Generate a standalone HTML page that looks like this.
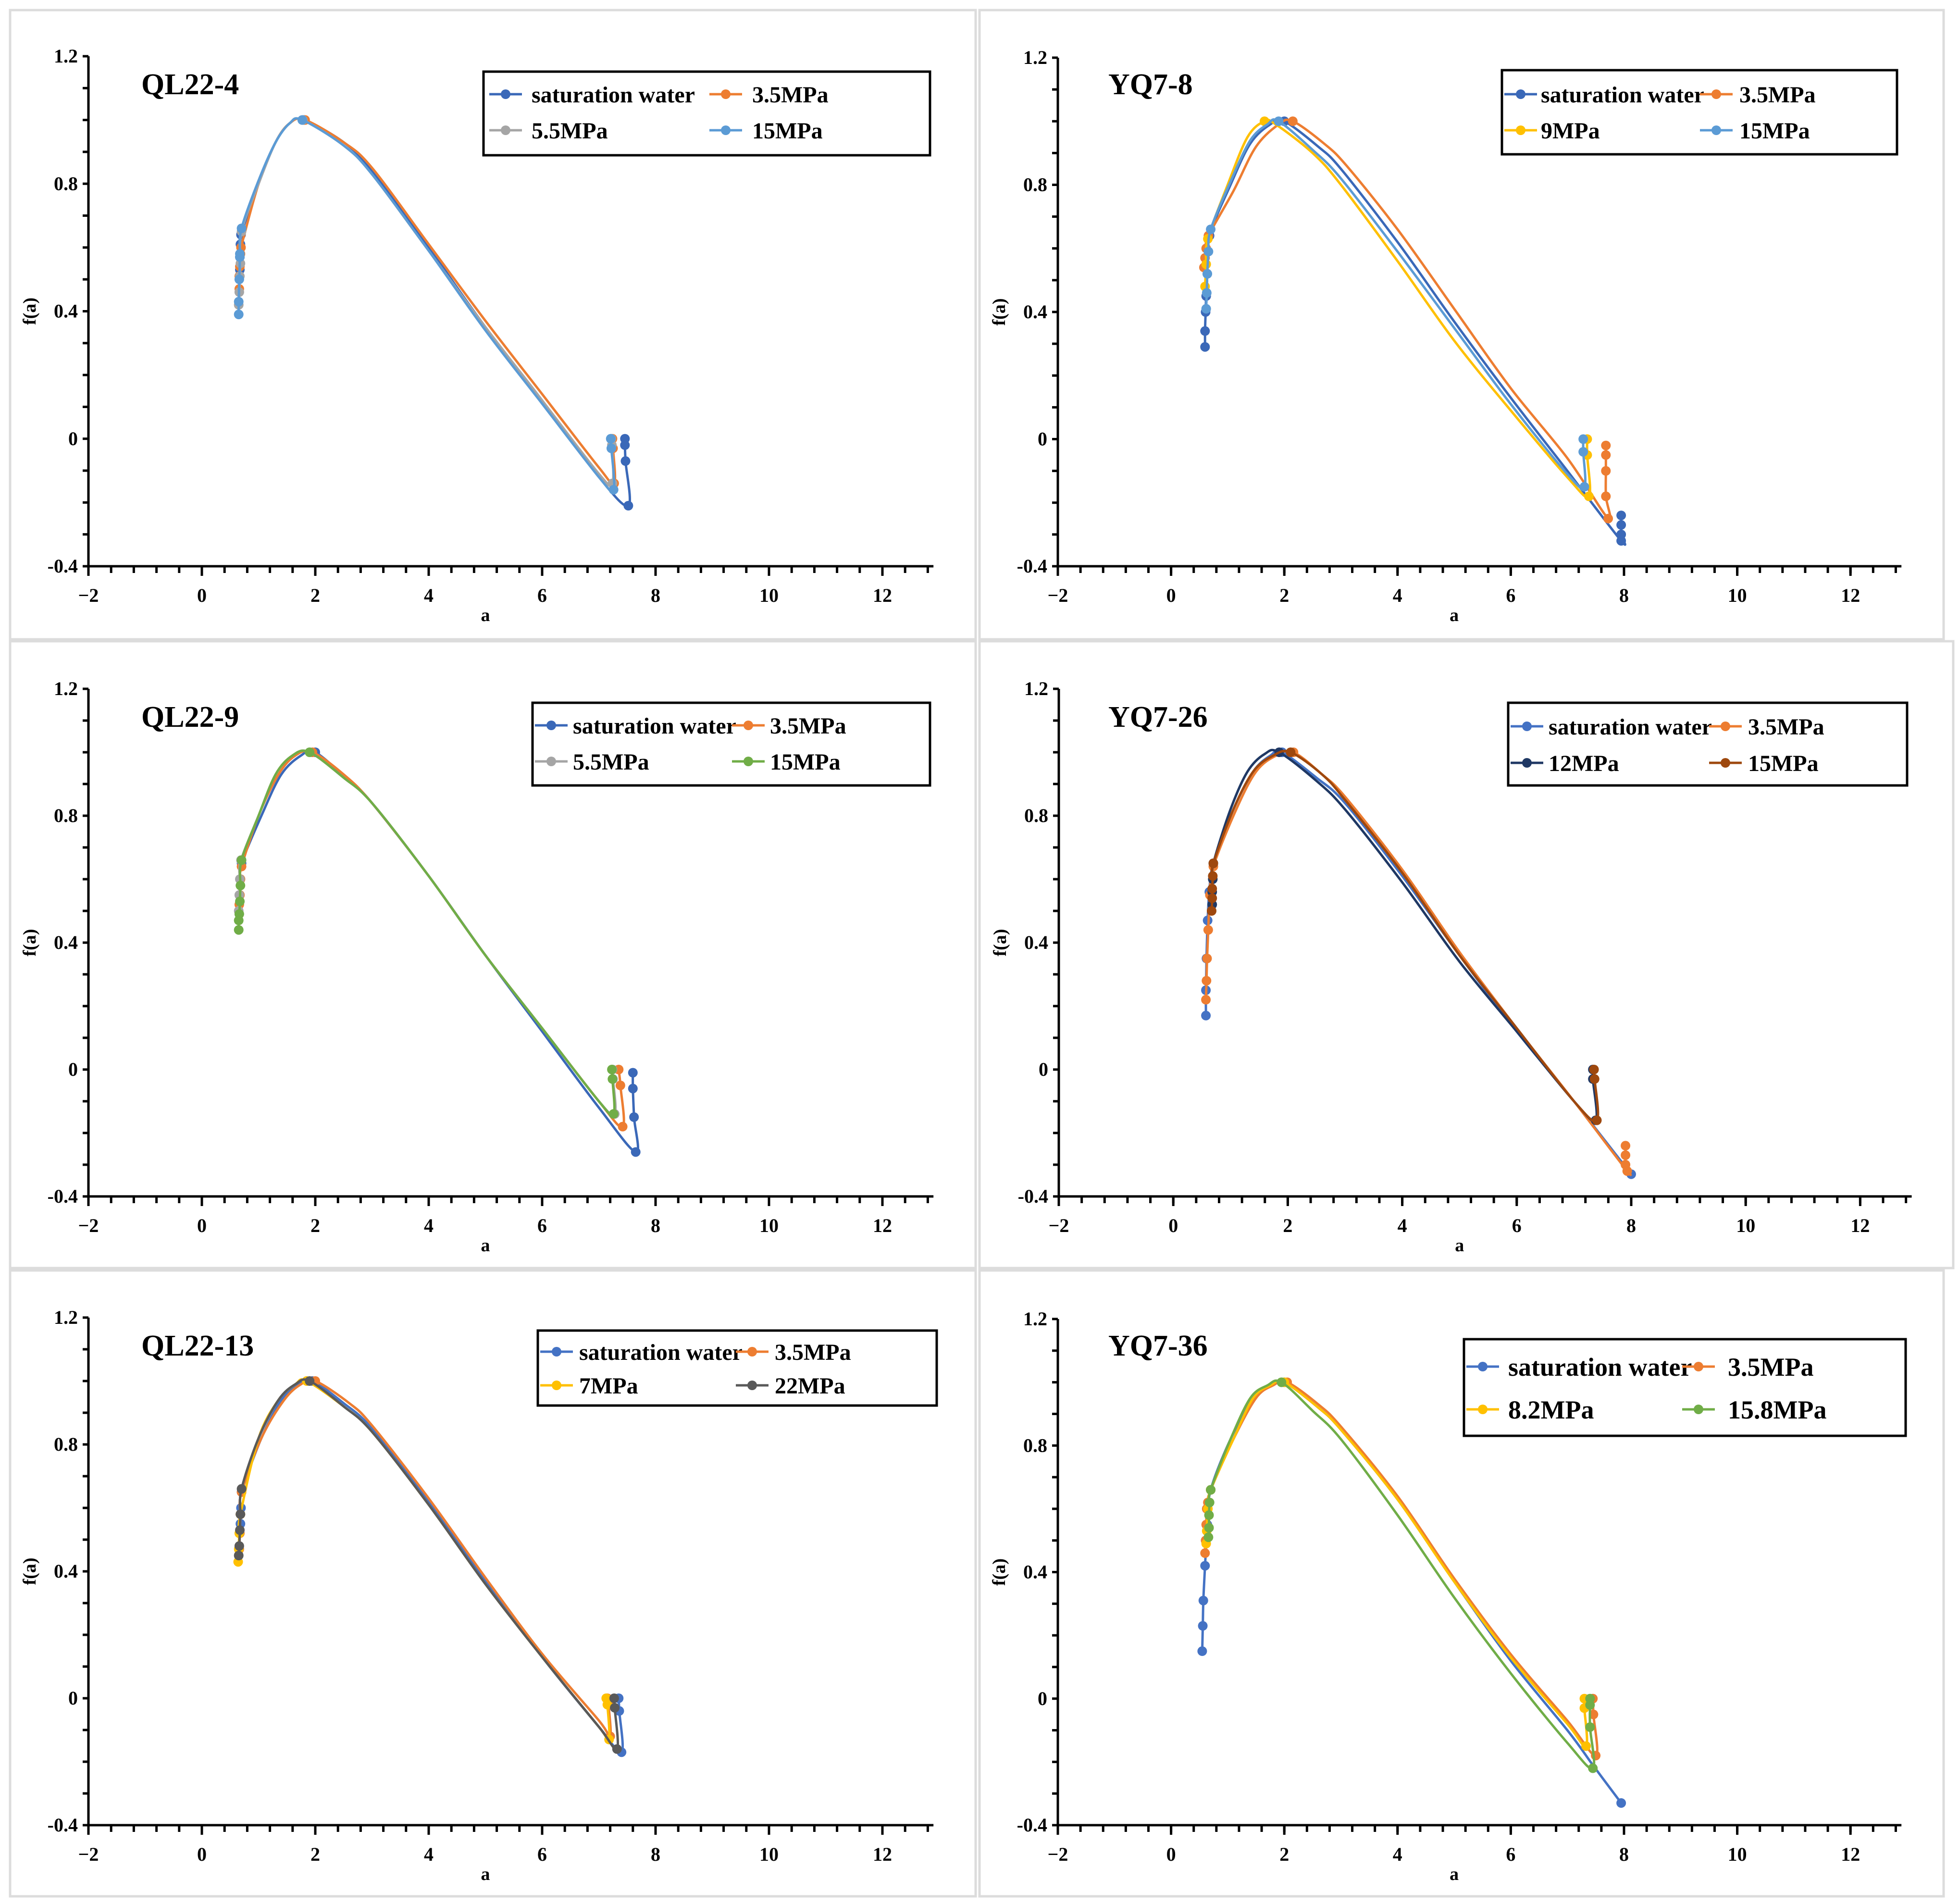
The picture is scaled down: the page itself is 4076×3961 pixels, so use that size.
<!DOCTYPE html>
<html><head><meta charset="utf-8"><style>
html,body{margin:0;padding:0;background:#fff}
svg{display:block;font-family:"Liberation Serif",serif;font-weight:bold}
</style></head><body>
<svg id="fig" xmlns="http://www.w3.org/2000/svg" width="4076" height="3961" viewBox="0 0 4076 3961"></svg>
<script>
// ===== data =====
const xTicks=[-2,0,2,4,6,8,10,12];
const xTickLabels=["\u22122","0","2","4","6","8","10","12"];
const yTicks=[-0.4,0,0.4,0.8,1.2];
const yTickLabels=["-0.4","0","0.4","0.8","1.2"];
const panelTitles=["QL22-4","YQ7-8","QL22-9","YQ7-26","QL22-13","YQ7-36"];

const p1Names=["saturation water","3.5MPa","5.5MPa","15MPa"];
const p1Colors=["#3A68B8","#ED7D31","#A5A5A5","#5B9BD5"];
const p1A=[[0.67,0.67,0.68,0.69,1.0,1.3,1.55,1.8,2.5,3,4,5,6,7,7.52,7.47,7.46,7.46],
[0.66,0.66,0.67,0.68,0.69,1.0,1.3,1.55,1.82,2.5,3,4,5,6,7,7.27,7.25,7.24],
[0.65,0.66,0.67,0.68,0.7,1.0,1.3,1.55,1.78,2.5,3,4,5,6,7,7.24,7.23,7.22],
[0.65,0.65,0.66,0.67,0.67,0.7,1.0,1.3,1.55,1.77,2.5,3,4,5,6,7,7.26,7.22,7.21]];
const p1F=[[0.53,0.57,0.61,0.64,0.80,0.93,0.99,1.0,0.93,0.84,0.60,0.35,0.12,-0.12,-0.21,-0.07,-0.02,0],
[0.47,0.51,0.54,0.58,0.60,0.80,0.93,0.99,1.0,0.93,0.85,0.61,0.37,0.14,-0.09,-0.14,-0.03,0],
[0.42,0.46,0.51,0.55,0.65,0.80,0.93,0.99,1.0,0.92,0.83,0.59,0.35,0.12,-0.11,-0.14,-0.02,0],
[0.39,0.43,0.50,0.57,0.58,0.66,0.81,0.93,0.99,1.0,0.92,0.83,0.59,0.34,0.11,-0.12,-0.16,-0.03,0]];
const p1R=[4,3,3,3];

const p2Names=["saturation water","3.5MPa","9MPa","15MPa"];
const p2Colors=["#3A68B8","#ED7D31","#FFC000","#5B9BD5"];
const p2A=[[0.6,0.6,0.61,0.62,0.64,0.68,1.05,1.4,1.75,2.0,2.6,3,4,5,6,7,7.95,7.95,7.95,7.95],
[0.58,0.6,0.62,0.66,1.1,1.5,1.9,2.15,2.7,3.1,4,5,6,7,7.72,7.68,7.68,7.68,7.68],
[0.6,0.62,0.65,1.0,1.35,1.65,1.85,2.5,3,4,5,6,7,7.38,7.35,7.35],
[0.62,0.63,0.64,0.66,0.7,1.05,1.4,1.7,1.9,2.5,3,4,5,6,7,7.3,7.28,7.28]];
const p2F=[[0.29,0.34,0.40,0.45,0.52,0.64,0.80,0.93,0.99,1.0,0.92,0.85,0.62,0.37,0.13,-0.1,-0.32,-0.3,-0.27,-0.24],
[0.54,0.57,0.60,0.64,0.78,0.92,0.99,1.0,0.93,0.86,0.66,0.41,0.16,-0.06,-0.25,-0.18,-0.1,-0.05,-0.02],
[0.48,0.55,0.63,0.80,0.95,1.0,0.99,0.90,0.80,0.56,0.31,0.09,-0.12,-0.18,-0.05,0],
[0.41,0.46,0.52,0.59,0.66,0.81,0.94,0.99,1.0,0.91,0.82,0.59,0.35,0.11,-0.11,-0.15,-0.04,0]];
const p2R=[4,5,3,3];

const p3Names=["saturation water","3.5MPa","5.5MPa","15MPa"];
const p3Colors=["#3A68B8","#ED7D31","#A5A5A5","#70AD47"];
const p3A=[[0.67,0.68,0.7,1.05,1.4,1.75,2.0,2.6,3,4,5,6,7,7.65,7.62,7.6,7.6],
[0.66,0.67,0.68,0.7,1.0,1.35,1.65,1.95,2.5,3,4,5,6,7,7.42,7.38,7.35],
[0.65,0.66,0.67,0.69,1.0,1.3,1.6,1.9,2.5,3,4,5,6,7,7.28,7.25,7.24],
[0.65,0.65,0.66,0.67,0.68,0.7,1.0,1.3,1.6,1.9,2.5,3,4,5,6,7,7.26,7.24,7.23]];
const p3F=[[0.55,0.6,0.65,0.80,0.93,0.99,1.0,0.91,0.84,0.61,0.36,0.12,-0.12,-0.26,-0.15,-0.06,-0.01],
[0.52,0.55,0.6,0.64,0.80,0.93,0.99,1.0,0.93,0.84,0.61,0.36,0.13,-0.1,-0.18,-0.05,0],
[0.5,0.55,0.6,0.66,0.80,0.93,0.99,1.0,0.92,0.84,0.61,0.36,0.13,-0.1,-0.14,-0.03,0],
[0.44,0.47,0.49,0.53,0.58,0.66,0.80,0.93,0.99,1.0,0.92,0.84,0.61,0.36,0.13,-0.1,-0.14,-0.03,0]];
const p3R=[4,3,3,3];

const p4Names=["saturation water","3.5MPa","12MPa","15MPa"];
const p4Colors=["#4472C4","#ED7D31","#1F3864","#9E480E"];
const p4A=[[0.57,0.57,0.58,0.6,0.63,0.7,1.05,1.4,1.7,1.9,2.5,3,4,5,6,7,8.0],
[0.57,0.58,0.59,0.61,0.64,0.7,1.1,1.45,1.8,2.1,2.6,3,4,5,6,7,7.93,7.9,7.9,7.9],
[0.68,0.68,0.69,0.7,1.0,1.3,1.6,1.85,2.5,3,4,5,6,7,7.38,7.33,7.33],
[0.67,0.68,0.68,0.69,0.7,1.05,1.4,1.75,2.05,2.6,3,4,5,6,7,7.4,7.36,7.35]];
const p4F=[[0.17,0.25,0.35,0.47,0.56,0.65,0.82,0.94,0.99,1.0,0.92,0.84,0.61,0.36,0.12,-0.1,-0.33],
[0.22,0.28,0.35,0.44,0.55,0.64,0.82,0.94,0.99,1.0,0.93,0.86,0.63,0.37,0.13,-0.1,-0.32,-0.3,-0.27,-0.24],
[0.52,0.56,0.6,0.65,0.82,0.94,0.995,1.0,0.91,0.82,0.59,0.34,0.12,-0.1,-0.16,-0.03,0],
[0.5,0.54,0.57,0.61,0.65,0.82,0.94,0.99,1.0,0.93,0.85,0.62,0.36,0.13,-0.1,-0.16,-0.03,0]];
const p4R=[1,4,3,3];

const p5Names=["saturation water","3.5MPa","7MPa","22MPa"];
const p5Colors=["#4472C4","#ED7D31","#FFC000","#595959"];
const p5A=[[0.68,0.69,0.7,1.05,1.4,1.7,1.95,2.5,3,4,5,6,7,7.4,7.36,7.35],
[0.66,0.67,0.68,0.7,1.05,1.45,1.75,2.0,2.6,3,4,5,6,7,7.2,7.17,7.15],
[0.64,0.65,0.66,0.68,1.0,1.35,1.65,1.85,2.5,3,4,5,6,7,7.18,7.15,7.13],
[0.65,0.66,0.67,0.68,0.7,1.0,1.35,1.65,1.9,2.5,3,4,5,6,7,7.32,7.28,7.27]];
const p5F=[[0.55,0.6,0.65,0.82,0.94,0.99,1.0,0.93,0.85,0.62,0.37,0.13,-0.09,-0.17,-0.04,0],
[0.47,0.52,0.58,0.65,0.82,0.94,0.99,1.0,0.93,0.86,0.63,0.38,0.14,-0.07,-0.12,-0.02,0],
[0.43,0.47,0.52,0.58,0.82,0.94,0.99,1.0,0.92,0.84,0.61,0.36,0.13,-0.09,-0.13,-0.02,0],
[0.45,0.48,0.53,0.58,0.66,0.82,0.94,0.99,1.0,0.92,0.84,0.61,0.36,0.13,-0.09,-0.16,-0.03,0]];
const p5R=[3,3,3,3];

const p6Names=["saturation water","3.5MPa","8.2MPa","15.8MPa"];
const p6Colors=["#4472C4","#ED7D31","#FFC000","#70AD47"];
const p6A=[[0.55,0.56,0.57,0.6,0.64,0.7,1.05,1.45,1.75,2.0,2.6,3,4,5,6,7,7.45,7.95],
[0.6,0.61,0.62,0.63,0.65,0.7,1.1,1.5,1.8,2.05,2.6,3,4,5,6,7,7.5,7.46,7.45],
[0.62,0.63,0.65,0.7,1.1,1.45,1.75,2.0,2.6,3,4,5,6,7,7.33,7.3,7.3],
[0.66,0.67,0.67,0.68,0.7,1.05,1.4,1.7,1.95,2.5,3,4,5,6,7,7.45,7.4,7.4,7.4]];
const p6F=[[0.15,0.23,0.31,0.42,0.55,0.66,0.82,0.95,0.99,1.0,0.92,0.85,0.63,0.37,0.12,-0.1,-0.21,-0.33],
[0.46,0.50,0.55,0.60,0.62,0.66,0.82,0.95,0.99,1.0,0.93,0.86,0.64,0.38,0.14,-0.07,-0.18,-0.05,0],
[0.49,0.53,0.6,0.66,0.82,0.95,0.99,1.0,0.92,0.85,0.63,0.37,0.13,-0.08,-0.15,-0.03,0],
[0.51,0.54,0.58,0.62,0.66,0.82,0.95,0.99,1.0,0.91,0.82,0.58,0.32,0.08,-0.14,-0.22,-0.09,-0.02,0]];
const p6R=[1,3,3,4];

// ===== layout =====
const panels=[
 {box:[21,21,2030,1330],x0:184,ux:118,ytop:117,ybot:1178,tx:294,ty:196,lg:[1006,149,1935,323],c1:1018,t1:1106,c2:1476,t2:1565,r1:196,r2:271,fs:48,names:p1Names,colors:p1Colors,A:p1A,F:p1F,R:p1R},
 {box:[2038,21,4044,1330],x0:2201,ux:117.8,ytop:120,ybot:1178,tx:2306,ty:196,lg:[3125,146,3947,321],c1:3130,t1:3206,c2:3537,t2:3619,r1:196,r2:271,fs:48,names:p2Names,colors:p2Colors,A:p2A,F:p2F,R:p2R},
 {box:[21,1334,2030,2638],x0:184,ux:118,ytop:1433,ybot:2489,tx:294,ty:1512,lg:[1108,1462,1935,1634],c1:1113,t1:1192,c2:1523,t2:1602,r1:1509,r2:1584,fs:48,names:p3Names,colors:p3Colors,A:p3A,F:p3F,R:p3R},
 {box:[2038,1334,4064,2638],x0:2203,ux:119.1,ytop:1433,ybot:2489,tx:2306,ty:1512,lg:[3138,1462,3968,1634],c1:3143,t1:3222,c2:3556,t2:3637,r1:1511,r2:1587,fs:48,names:p4Names,colors:p4Colors,A:p4A,F:p4F,R:p4R},
 {box:[21,2643,2030,3945],x0:184,ux:118,ytop:2741,ybot:3797,tx:294,ty:2820,lg:[1119,2768,1949,2924],c1:1124,t1:1205,c2:1531,t2:1612,r1:2812,r2:2882,fs:48,names:p5Names,colors:p5Colors,A:p5A,F:p5F,R:p5R},
 {box:[2038,2643,4044,3945],x0:2201,ux:117.8,ytop:2744,ybot:3797,tx:2306,ty:2820,lg:[3046,2786,3965,2987],c1:3051,t1:3138,c2:3500,t2:3595,r1:2843,r2:2932,fs:54,names:p6Names,colors:p6Colors,A:p6A,F:p6F,R:p6R}
];

const NS="http://www.w3.org/2000/svg";
const svg=document.getElementById('fig');
function mk(tag,attrs,parent){const e=document.createElementNS(NS,tag);for(const k in attrs)e.setAttribute(k,attrs[k]);parent.appendChild(e);return e;}
function spline(pts){
  if(pts.length<2)return "";
  let d="M"+pts[0][0].toFixed(1)+","+pts[0][1].toFixed(1);
  for(let i=0;i<pts.length-1;i++){
    const p0=pts[i-1]||pts[i],p1=pts[i],p2=pts[i+1],p3=pts[i+2]||pts[i+1];
    const t=1/6;
    const c1=[p1[0]+(p2[0]-p0[0])*t,p1[1]+(p2[1]-p0[1])*t];
    const c2=[p2[0]-(p3[0]-p1[0])*t,p2[1]-(p3[1]-p1[1])*t];
    d+=" C"+c1[0].toFixed(1)+","+c1[1].toFixed(1)+" "+c2[0].toFixed(1)+","+c2[1].toFixed(1)+" "+p2[0].toFixed(1)+","+p2[1].toFixed(1);
  }
  return d;
}

panels.forEach((P,pi)=>{
  const g=mk('g',{},svg);
  
  
  const X=v=>P.x0+(v+2)*P.ux;
  const Y=v=>P.ybot-(v+0.4)/1.6*(P.ybot-P.ytop);
  const frame=mk('rect',{x:P.box[0],y:P.box[1],width:P.box[2]-P.box[0],height:P.box[3]-P.box[1],fill:'none',stroke:'#dcdcdc','stroke-width':5},g);
  
  
  const xEnd=X(12.9);
  const ax=mk('g',{stroke:'#000','stroke-width':5},g);
  
  
  mk('line',{x1:P.x0,y1:P.ytop,x2:P.x0,y2:P.ybot},ax);
  mk('line',{x1:P.x0,y1:P.ybot,x2:xEnd,y2:P.ybot},ax);
  for(let v=-2;v<=12.85;v+=0.4){const xx=X(v);mk('line',{x1:xx,y1:P.ybot,x2:xx,y2:P.ybot+14},ax);}
  xTicks.forEach(v=>mk('line',{x1:X(v),y1:P.ybot,x2:X(v),y2:P.ybot+20},ax));
  for(let v=-0.4;v<=1.2001;v+=0.1){mk('line',{x1:P.x0-12,y1:Y(v),x2:P.x0,y2:Y(v)},ax);}
  xTicks.forEach((v,i)=>{const t=mk('text',{x:X(v),y:P.ybot+74,'font-size':40,'text-anchor':'middle'},g);t.textContent=xTickLabels[i];
    });
  yTicks.forEach((v,i)=>{const t=mk('text',{x:P.x0-22,y:Y(v)+13,'font-size':40,'text-anchor':'end'},g);t.textContent=yTickLabels[i];
    });
  const xt=mk('text',{x:X(5),y:P.ybot+114,'font-size':38,'text-anchor':'middle'},g);xt.textContent='a';
  
  const yx=P.x0-110, yy=Y(0.4);
  const yt=mk('text',{x:yx,y:yy,'font-size':38,'text-anchor':'middle',transform:'rotate(-90 '+yx+' '+yy+')'},g);yt.textContent='f(a)';
  
  const tt=mk('text',{x:P.tx,y:P.ty,'font-size':62},g);tt.textContent=panelTitles[pi];
  
  P.A.forEach((arr,si)=>{
    const sg=mk('g',{},g);
    
    
    const pts=arr.map((a,i)=>[X(a),Y(P.F[si][i])]);
    mk('path',{d:spline(pts),fill:'none',stroke:P.colors[si],'stroke-width':5,'stroke-linejoin':'round'},sg);
    arr.forEach((a,i)=>{
      const f=P.F[si][i];
      if(a<0.72||f===1.0||i>=arr.length-P.R[si]){
        const c=mk('circle',{cx:X(a),cy:Y(f),r:10,fill:P.colors[si]},sg);
        
        
      }
    });
  });
  const lg=mk('g',{},g);
  
  
  mk('rect',{x:P.lg[0],y:P.lg[1],width:P.lg[2]-P.lg[0],height:P.lg[3]-P.lg[1],fill:'#fff',stroke:'#000','stroke-width':5},lg);
  const pos=[[P.c1,P.t1,P.r1],[P.c2,P.t2,P.r1],[P.c1,P.t1,P.r2],[P.c2,P.t2,P.r2]];
  P.names.forEach((n,i)=>{
    const e=mk('g',{},lg);
    
    
    const [lx,tx,ry]=pos[i];
    mk('line',{x1:lx,y1:ry,x2:lx+68,y2:ry,stroke:P.colors[i],'stroke-width':5},e);
    mk('circle',{cx:lx+34,cy:ry,r:10,fill:P.colors[i]},e);
    const t=mk('text',{x:tx,y:ry+P.fs*0.35,'font-size':P.fs},e);t.textContent=n;
  });
});
</script>
</body></html>
